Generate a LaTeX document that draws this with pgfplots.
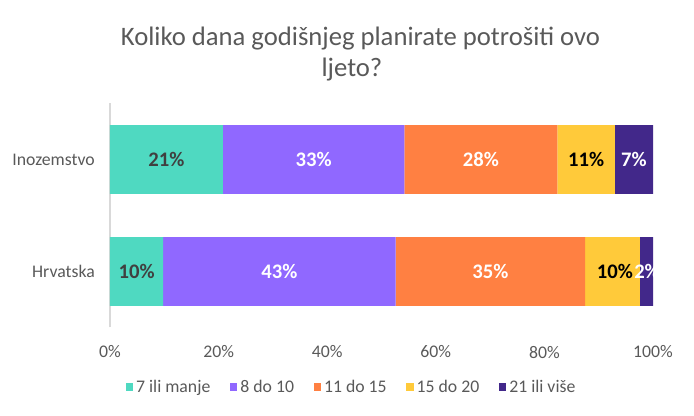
\documentclass[border=0pt]{standalone}
\usepackage{pgfplots}
\pgfplotsset{compat=1.18}
\usepackage{fontspec}
\setmainfont{Carlito}
\definecolor{cTeal}{RGB}{79,217,193}
\definecolor{cPurple}{RGB}{144,104,255}
\definecolor{cOrange}{RGB}{255,128,66}
\definecolor{cYellow}{RGB}{255,202,58}
\definecolor{cDark}{RGB}{66,40,138}
\definecolor{txtgray}{RGB}{89,89,89}
\definecolor{lblgray}{RGB}{64,64,64}
\definecolor{axgray}{RGB}{217,217,217}
\begin{document}
\begin{tikzpicture}
\path[use as bounding box] (0,0) rectangle (520.5pt,312pt);
\node[font=\fontsize{20}{24}\selectfont, text=txtgray, anchor=base, inner sep=0pt] at (270.4pt,277.5pt) {Koliko dana godišnjeg planirate potrošiti ovo};
\node[font=\fontsize{20}{24}\selectfont, text=txtgray, anchor=base, inner sep=0pt] at (264pt,254.25pt) {ljeto?};
\begin{axis}[
  at={(82.5pt,66.375pt)}, anchor=south west,
  scale only axis, width=407.25pt, height=168pt,
  xbar stacked, bar width=51.4pt,
  xmin=0, xmax=100, ymin=-0.5, ymax=1.5,
  axis y line*=left, axis x line*=bottom,
  x axis line style={draw=none},
  y axis line style={draw=axgray, line width=0.8pt},
  xtick={0,20,40,60,80,100},
  xticklabels={0\%,20\%,40\%,60\%,80\%,100\%},
  ytick={0,1}, yticklabels={Hrvatska,Inozemstvo},
  major tick length=0pt,
  tick style={draw=none},
  xticklabel style={font=\fontsize{13.3}{16}\selectfont, text=txtgray, anchor=center, yshift=-18.4pt, inner sep=0pt},
  yticklabel style={font=\fontsize{13.3}{16}\selectfont, text=txtgray, anchor=east, xshift=-11.25pt, inner sep=0pt},
  legend columns=5,
  legend style={draw=none, fill=none, at={(0.4457,-0.2656)}, anchor=center,
    font=\fontsize{13.3}{16}\selectfont, text=txtgray,
    nodes={inner sep=2.2pt},
    /tikz/every even column/.append style={column sep=12.5pt}},
  legend image code/.code={\fill[#1,draw=none] (0pt,-2.8pt) rectangle (5.6pt,2.8pt);},
  every axis plot/.append style={draw=none},
]
\addplot[fill=cTeal] coordinates {(9.8,0) (20.8,1)};
\addplot[fill=cPurple] coordinates {(42.8,0) (33.4,1)};
\addplot[fill=cOrange] coordinates {(34.9,0) (28.2,1)};
\addplot[fill=cYellow] coordinates {(10.1,0) (10.6,1)};
\addplot[fill=cDark] coordinates {(2.4,0) (7.0,1)};
\legend{7 ili manje, 8 do 10, 11 do 15, 15 do 20, 21 ili više}
\end{axis}
\begin{axis}[
  at={(82.5pt,66.375pt)}, anchor=south west,
  scale only axis, width=407.25pt, height=168pt,
  xmin=0, xmax=100, ymin=-0.5, ymax=1.5,
  hide axis,
  nodes near coords, point meta=explicit symbolic,
  every node near coord/.append style={anchor=center, inner sep=0pt, font=\fontsize{15.5}{18}\selectfont\bfseries},
]
\addplot[only marks, mark=*, mark size=0pt, mark options={draw=none, fill=none}] coordinates {
  (10.4,1) [\textcolor{lblgray}{21\%}]
  (37.5,1) [\textcolor{white}{33\%}]
  (68.3,1) [\textcolor{white}{28\%}]
  (87.7,1) [\textcolor{black}{11\%}]
  (96.5,1) [\textcolor{white}{7\%}]
  (4.9,0) [\textcolor{lblgray}{10\%}]
  (31.2,0) [\textcolor{white}{43\%}]
  (70.05,0) [\textcolor{white}{35\%}]
  (93.0,0) [\textcolor{black}{10\%}]
  (98.9,0) [\textcolor{white}{2\%}]
};
\end{axis}
\end{tikzpicture}
\end{document}
